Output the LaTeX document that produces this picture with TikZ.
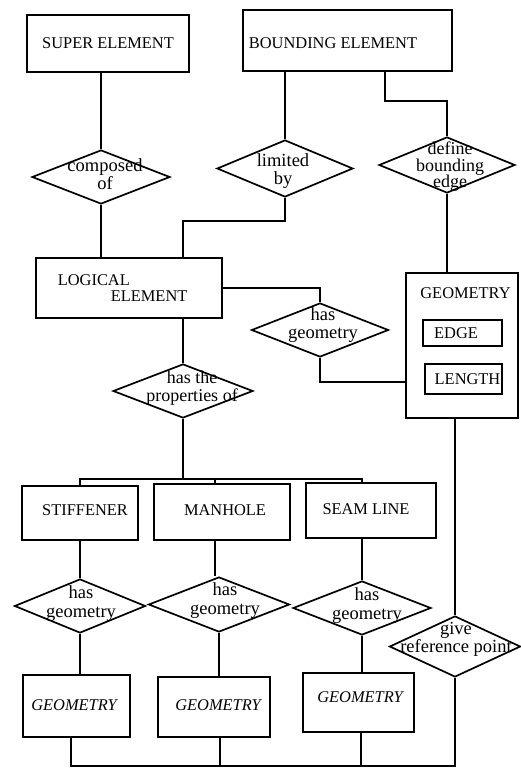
\documentclass[tikz,border=0pt]{standalone}
\usepackage{fontspec}
\setmainfont{Liberation Serif}
\usetikzlibrary{shapes.geometric}
\begin{document}
\begin{tikzpicture}[x=1pt,y=-1pt,line width=1.7pt,
  box/.style={draw,rectangle,inner sep=0pt},
  dia/.style={draw,diamond,inner sep=0pt,aspect=2.5},
  captext/.style={inner sep=0pt,font=\fontsize{16.4}{16}\selectfont},
  icaptext/.style={inner sep=0pt,font=\fontsize{16.4}{16}\selectfont\itshape},
  lowtext/.style={inner sep=0pt,align=center,font=\fontsize{18.5}{18.5}\selectfont}]
\useasboundingbox (0,0) rectangle (521,770);
% entity boxes
\node[box,minimum width=162pt,minimum height=57pt] (super) at (108,43.5) {};
\node[box,minimum width=209pt,minimum height=61pt] (bound) at (347.5,40.5) {};
\node[box,minimum width=186pt,minimum height=60pt] (logical) at (129,288) {};
\node[box,minimum width=112pt,minimum height=145pt] (biggeo) at (462,345.5) {};
\node[box,minimum width=79pt,minimum height=26pt] (edge) at (462.5,333) {};
\node[box,minimum width=77pt,minimum height=30pt] (length) at (463.5,379) {};
\node[box,minimum width=116pt,minimum height=54pt] (stiff) at (80,513) {};
\node[box,minimum width=136pt,minimum height=56pt] (manhole) at (222,512) {};
\node[box,minimum width=130pt,minimum height=55pt] (seam) at (371,510.5) {};
\node[box,minimum width=107pt,minimum height=62pt] (geo1) at (76.5,706) {};
\node[box,minimum width=112pt,minimum height=60pt] (geo2) at (214,707) {};
\node[box,minimum width=111pt,minimum height=59pt] (geo3) at (358.5,702.5) {};
% relationship diamonds
\node[dia,minimum width=138pt,minimum height=54pt] (comp) at (101,177) {};
\node[dia,minimum width=136pt,minimum height=57pt] (limited) at (285,168.5) {};
\node[dia,minimum width=136pt,minimum height=56pt] (define) at (447,165) {};
\node[dia,minimum width=137pt,minimum height=54pt] (hgm) at (320,330) {};
\node[dia,minimum width=140pt,minimum height=54pt] (props) at (183,391) {};
\node[dia,minimum width=131pt,minimum height=54pt] (hg1) at (80,606) {};
\node[dia,minimum width=141pt,minimum height=55pt] (hg2) at (219,604.5) {};
\node[dia,minimum width=138pt,minimum height=54pt] (hg3) at (362,608) {};
\node[dia,minimum width=131pt,minimum height=61pt] (give) at (455,646.5) {};
% texts
\node[captext] (super-t) at (108,43) {SUPER ELEMENT};
\node[captext] (bound-t) at (333,43) {BOUNDING ELEMENT};
\node[captext,anchor=west,align=left] (logical-t) at (57,288) {LOGICAL\\\hspace*{53pt}ELEMENT};
\node[captext] (biggeo-t) at (465.5,293) {GEOMETRY};
\node[captext] (edge-t) at (456,333) {EDGE};
\node[captext] (length-t) at (467.5,379) {LENGTH};
\node[captext] (stiff-t) at (85,510) {STIFFENER};
\node[captext] (manhole-t) at (225,510) {MANHOLE};
\node[captext] (seam-t) at (366,509) {SEAM LINE};
\node[icaptext] (geo1-t) at (74,705) {GEOMETRY};
\node[icaptext] (geo2-t) at (218,705) {GEOMETRY};
\node[icaptext] (geo3-t) at (360,697) {GEOMETRY};
\node[lowtext] (comp-t) at (105,174) {composed\\of};
\node[lowtext] (limited-t) at (283,171) {limited\\by};
\node[lowtext,font=\fontsize{18}{16.5}\selectfont] (define-t) at (450,167) {define\\bounding\\edge};
\node[lowtext] (hgm-t) at (323,325) {has\\geometry};
\node[lowtext,font=\fontsize{18}{18}\selectfont] (props-t) at (192,388) {has the\\properties of};
\node[lowtext] (hg1-t) at (81,603.5) {has\\geometry};
\node[lowtext] (hg2-t) at (225,600.5) {has\\geometry};
\node[lowtext] (hg3-t) at (367,605.5) {has\\geometry};
\node[lowtext] (give-t) at (456,639.5) {give\\reference point};
% connectors
\draw (comp.north) -- (comp.north |- super.south);
\draw (comp.south) -- (comp.south |- logical.north);
\draw (limited.north) -- (limited.north |- bound.south);
\draw (limited.south) -- ++(0,23) -| ([xshift=54pt]logical.north);
\draw ([xshift=37.5pt]bound.south) -- ++(0,29) -| (define.north);
\draw (define.south) -- (define.south |- biggeo.north);
\draw (logical.east) -| (hgm.north);
\draw (hgm.south) |- ([yshift=-36.5pt]biggeo.west);
\draw (props.north) -- (props.north |- logical.south);
\draw (props.south) -- ++(0,60) coordinate (br);
\draw (stiff.north) |- (br) -| ([xshift=-9pt]seam.north);
\draw ([xshift=-7pt]manhole.north) -- ([xshift=-7pt]manhole.north |- br);
\draw (stiff.south) -- (hg1.north);
\draw ([xshift=-7pt]manhole.south) -- ([xshift=-7pt]manhole.south |- hg2.north);
\draw ([xshift=-9pt]seam.south) -- ([xshift=-9pt]seam.south |- hg3.north);
\draw (hg1.south) -- (hg1.south |- geo1.north);
\draw (hg2.south) -- (hg2.south |- geo2.north);
\draw (hg3.south) -- (hg3.south |- geo3.north);
\draw (give.north) -- (give.north |- biggeo.south);
\draw ([xshift=-5.5pt]geo1.south) -- ++(0,28) coordinate (bus) -| (give.south);
\draw ([xshift=6pt]geo2.south) -- ([xshift=6pt]geo2.south |- bus);
\draw ([xshift=2.5pt]geo3.south) -- ([xshift=2.5pt]geo3.south |- bus);
\end{tikzpicture}
\end{document}
